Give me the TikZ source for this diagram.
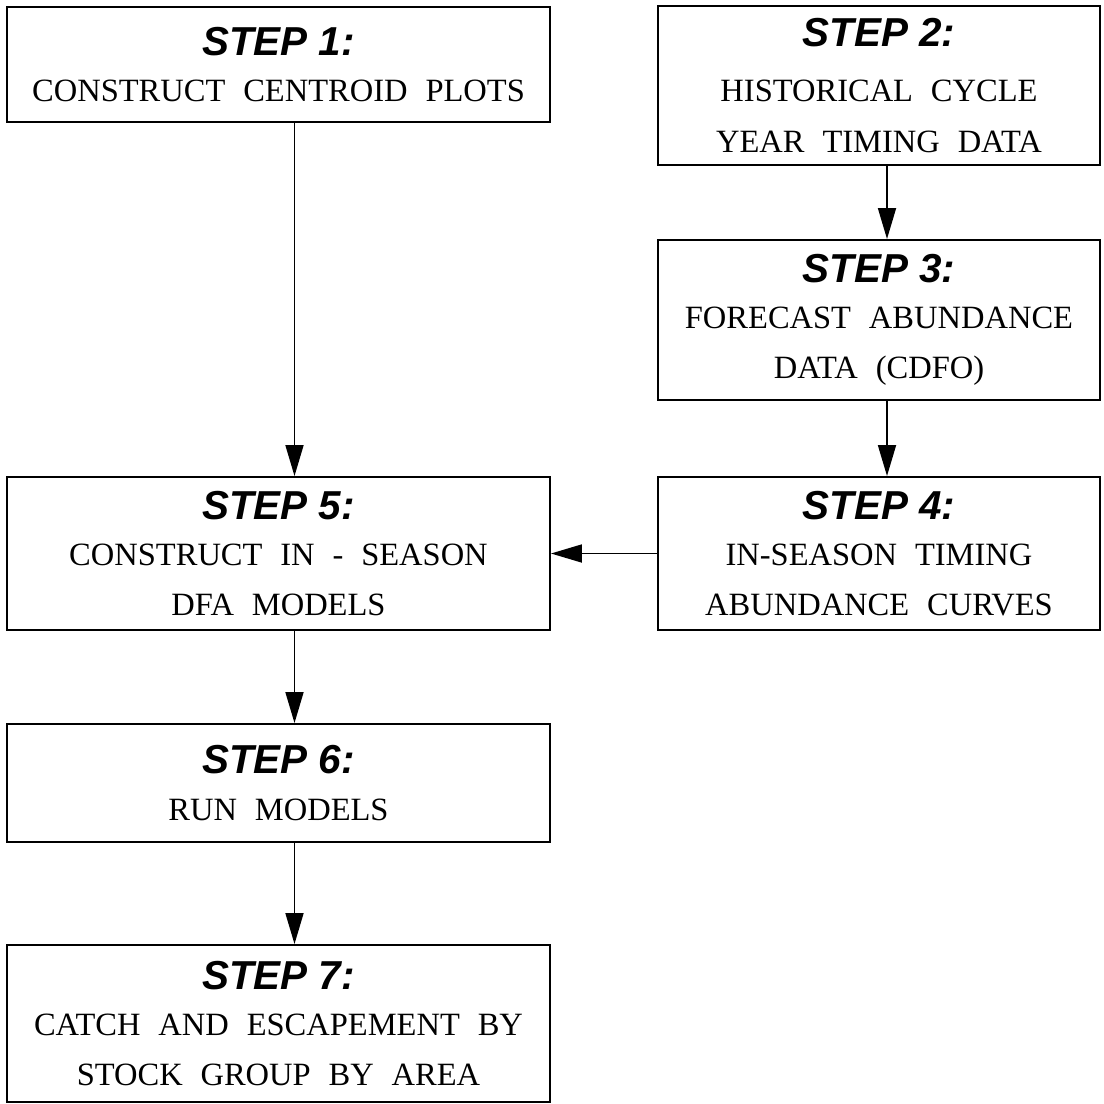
\documentclass[tikz,border=0pt]{standalone}
\usepackage{fontspec}
\setmainfont{Liberation Serif}
\newfontfamily\stepfamily{Liberation Sans}
\usetikzlibrary{arrows.meta}
\usetikzlibrary{positioning}
\tikzset{
  >={Triangle[length=0.62cm, width=0.36cm]},
  stepbox/.style = {draw, line width=1.1pt, align=center, inner sep=0pt,
    font={\fontsize{18.5}{28.5}\selectfont\spaceskip=0.55em\relax}},
  leftbox/.style = {stepbox, minimum width=10.86cm},
  rightbox/.style = {stepbox, minimum width=8.84cm},
  flow/.style = {->, line width=1pt},
}
\newcommand{\steplabel}[1]{{\stepfamily\bfseries\itshape\fontsize{23}{26}\selectfont\spaceskip=0pt\relax #1}}

\begin{document}
\begin{tikzpicture}
    \useasboundingbox (0,0) rectangle (22.08,-22.08);
    \node [leftbox, minimum height=2.30cm] (s1) at (5.57,-1.29)
      {\steplabel{STEP 1:}\\[-0.08cm] CONSTRUCT CENTROID PLOTS};
    \node [rightbox, minimum height=3.18cm] (s2) at (17.58,-1.71)
      {\steplabel{STEP 2:}\\[0.1cm] HISTORICAL CYCLE\\ YEAR TIMING DATA};
    \node [rightbox, minimum height=3.20cm] (s3) at (17.58,-6.40)
      {\steplabel{STEP 3:}\\[-0.08cm] FORECAST ABUNDANCE\\ DATA (CDFO)};
    \node [rightbox, minimum height=3.06cm] (s4) at (17.58,-11.07)
      {\steplabel{STEP 4:}\\[-0.08cm] IN-SEASON TIMING\\ ABUNDANCE CURVES};
    \node [leftbox, minimum height=3.06cm] (s5) at (5.57,-11.07)
      {\steplabel{STEP 5:}\\[-0.08cm] CONSTRUCT IN - SEASON\\ DFA MODELS};
    \node [leftbox, minimum height=2.36cm] (s6) at (5.57,-15.66)
      {\steplabel{STEP 6:}\\[-0.08cm] RUN MODELS};
    \node [leftbox, minimum height=3.14cm] (s7) at (5.57,-20.47)
      {\steplabel{STEP 7:}\\[-0.08cm] CATCH AND ESCAPEMENT BY\\ STOCK GROUP BY AREA};
    % connectors
    \draw [flow] ([xshift=0.32cm]s1.south) -- ([xshift=0.32cm]s5.north);
    \draw [flow] ([xshift=0.16cm]s2.south) -- ([xshift=0.16cm]s3.north);
    \draw [flow] ([xshift=0.16cm]s3.south) -- ([xshift=0.16cm]s4.north);
    \draw [flow] (s4.west) -- (s5.east);
    \draw [flow] ([xshift=0.32cm]s5.south) -- ([xshift=0.32cm]s6.north);
    \draw [flow] ([xshift=0.32cm]s6.south) -- ([xshift=0.32cm]s7.north);
\end{tikzpicture}
\end{document}
